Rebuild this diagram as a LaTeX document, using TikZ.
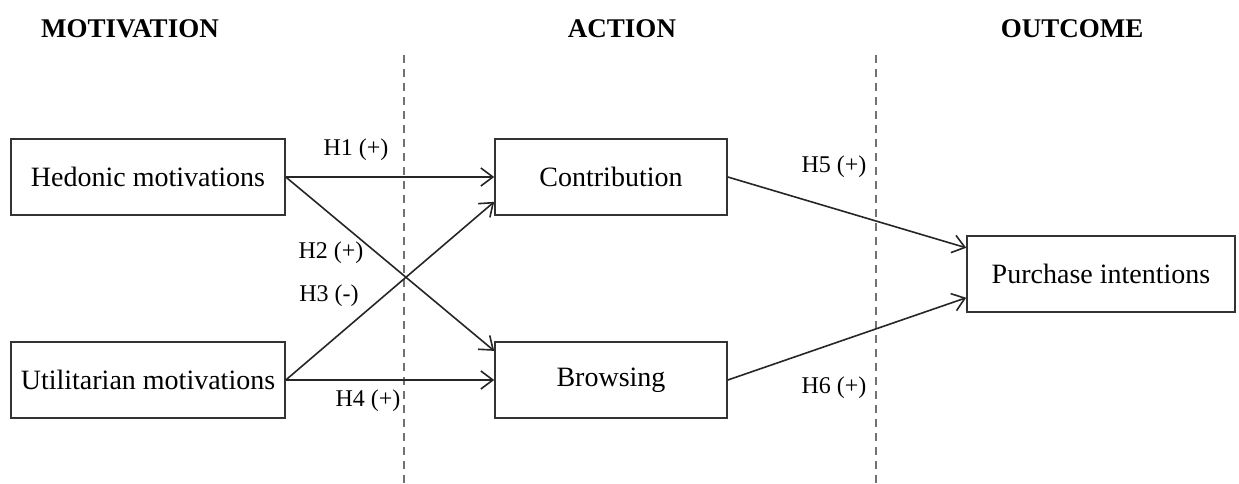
\documentclass[tikz,border=0pt]{standalone}
\usepackage{fontspec}
\setmainfont{Liberation Serif}
\usetikzlibrary{arrows.meta}
\begin{document}
\begin{tikzpicture}[x=0.5pt,y=-0.5pt]
\tikzstyle{hyp}= [-{Straight Barb[length=6pt,width=9pt]},thick,black!85]
\tikzstyle{bb}= [rectangle,draw=black!80,thick,minimum height=38pt,inner sep=0pt,font=\fontsize{14}{16}\selectfont]
\tikzstyle{lbl}= [font=\fontsize{12}{14}\selectfont,inner sep=0pt]
\tikzstyle{head}= [font=\fontsize{13.5}{15}\selectfont\bfseries]
\tikzstyle{sep}= [gray!90!black,semithick,dash pattern=on 4pt off 3pt]
\useasboundingbox (0,0) rectangle (1239,483);

\path
	( 130,29) node[head] (mot) {MOTIVATION}
	( 622,29) node[head] (act) {ACTION}
	(1072,29) node[head] (out) {OUTCOME}
	( 148,177) node[bb,minimum width=137pt] (hed) {Hedonic motivations}
	( 148,380) node[bb,minimum width=137pt] (util) {Utilitarian motivations}
	( 611,177) node[bb,minimum width=116pt] (contrib) {Contribution}
	( 611,380) node[bb,minimum width=116pt] (browse) {Browsing}
	(1101,274) node[bb,minimum width=134pt] (purch) {Purchase intentions}
;
\draw[sep] (404,55) -- (404,483);
\draw[sep] (876,55) -- (876,483);

\draw[hyp] (hed.east) -- (contrib.west);
\draw[hyp] (hed.east) -- (browse.166);
\draw[hyp] (util.east) -- (contrib.192);
\draw[hyp] (util.east) -- (browse.west);
\draw[hyp] (contrib.east) -- (purch.169);
\draw[hyp] (browse.east) -- (purch.190);

\node[lbl] at (356,150) {H1 (+)};
\node[lbl] at (331,253) {H2 (+)};
\node[lbl] at (329,296) {H3 (-)};
\node[lbl] at (368,401) {H4 (+)};
\node[lbl] at (834,167) {H5 (+)};
\node[lbl] at (834,388) {H6 (+)};
\end{tikzpicture}
\end{document}
